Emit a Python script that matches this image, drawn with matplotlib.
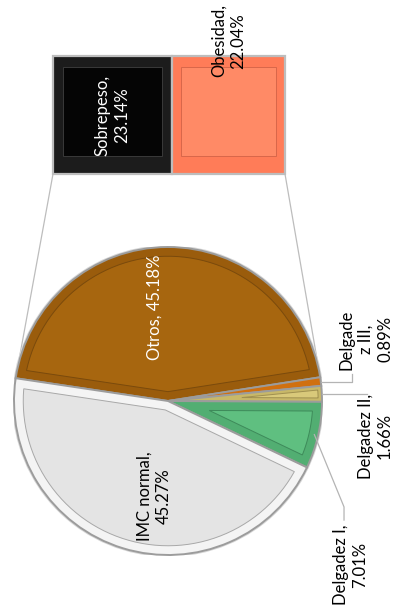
import numpy as np
import matplotlib
matplotlib.use("Agg")
import matplotlib.pyplot as plt
from matplotlib.patches import Polygon, ConnectionPatch

plt.rcParams['font.family'] = ['Lato', 'DejaVu Sans']

# Pie slices (clockwise from the "Otros" slice)
pie_labels = ["Otros", "Delgadez III", "Delgadez II", "Delgadez I", "IMC normal"]
pie_values = [45.18, 0.89, 1.66, 7.01, 45.27]
pie_texts = ["Otros, 45.18%", "Delgade\nz III,\n0.89%", "Delgadez II,\n1.66%",
             "Delgadez I,\n7.01%", "IMC normal,\n45.27%"]
pie_face = ["#A7660F", "#E2801A", "#D9C97A", "#5FBF80", "#E4E4E4"]
pie_rim = ["#9A5C0C", "#D07010", "#C8B868", "#52AE72", "#F4F4F4"]
pie_line = ["#7A4A0C", "#A05A10", "#A09050", "#3E8A5A", "#A8A8A8"]

# Bar breaking down "Otros"
bar_labels = ["Sobrepeso", "Obesidad"]
bar_values = [23.14, 22.04]
bar_texts = ["Sobrepeso,\n23.14%", "Obesidad,\n22.04%"]
bar_face = ["#050505", "#FF8A66"]
bar_rim = ["#1C1C1C", "#FF7C58"]
bar_line = ["#3A3A3A", "#D8674A"]

FS = 12
LS = 1.25

W, H = 395, 609
fig = plt.figure(figsize=(W / 100, H / 100), dpi=100)
fig.patch.set_facecolor("white")

# ---- pie ----
cx, cy, R = 168, 401, 154
ax = fig.add_axes([(cx - R) / W, (H - cy - R) / H, 2 * R / W, 2 * R / H])

# soft outer rim behind the pie
ax.add_patch(plt.Circle((0, 0), 1.012, facecolor="#D8D8D8", edgecolor="none", zorder=0))

wedges, _ = ax.pie(pie_values, startangle=171.5, counterclock=False,
                   colors=pie_rim, radius=1.0,
                   wedgeprops=dict(edgecolor="#9C9C9C", linewidth=1.4))
for w in wedges:
    w.set_zorder(1)
ax.set_xlim(-1, 1)
ax.set_ylim(-1, 1)
ax.set_aspect("auto")
ax.axis("off")


def inset_sector(t1, t2, r, d, n=60):
    """Sector from t1 to t2 (deg) shrunk inward by distance d."""
    a1, a2 = np.radians(t1), np.radians(t2)
    half = (a2 - a1) / 2
    mid = (a1 + a2) / 2
    shift = d / np.sin(half) if half < np.pi / 2 else d
    apex = np.array([np.cos(mid), np.sin(mid)]) * shift
    rr = r - d
    trim = np.arcsin(min(d / rr, 0.99))
    ang = np.linspace(a1 + trim, a2 - trim, n)
    arc = np.column_stack([rr * np.cos(ang), rr * np.sin(ang)])
    return np.vstack([apex, arc])


for w, face, line in zip(wedges, pie_face, pie_line):
    span = w.theta2 - w.theta1
    if span < 4:
        continue
    d = 0.06 if span > 20 else 0.025
    pts = inset_sector(w.theta1, w.theta2, 1.0, d)
    ax.add_patch(Polygon(pts, closed=True, facecolor=face, edgecolor=line,
                         linewidth=0.7, zorder=2))

txt = dict(rotation=90, fontsize=FS, ha="center", va="center",
           multialignment="center", linespacing=LS, clip_on=False, zorder=5)

# labels inside the pie
ax.text(-0.09, 0.61, pie_texts[0], color="white", **txt)
ax.text(-0.09, -0.62, pie_texts[4], color="black", **txt)


def mid_point(w, r=1.0):
    a = np.radians((w.theta1 + w.theta2) / 2)
    return r * np.cos(a), r * np.sin(a)


# outside labels with leader lines
lc = "#B4B4B4"
x0, y0 = mid_point(wedges[1])
ax.plot([x0, 1.195, 1.195], [y0, y0, 0.175], color=lc, lw=0.9, clip_on=False)
ax.text(1.285, 0.40, pie_texts[1], color="black", **txt)

x0, y0 = mid_point(wedges[2])
ax.plot([x0, 1.29], [y0, y0], color=lc, lw=0.9, clip_on=False)
ax.text(1.345, -0.23, pie_texts[2], color="black", **txt)

x0, y0 = mid_point(wedges[3], 0.975)
ax.plot([x0, 1.143, 1.143], [y0, -0.688, -0.773], color=lc, lw=0.9, clip_on=False)
ax.text(1.185, -1.065, pie_texts[3], color="black", **txt)

# ---- stacked bar ----
bl, br, bt, bb = 53, 285, 56, 174
axb = fig.add_axes([bl / W, (H - bb) / H, (br - bl) / W, (bb - bt) / H])
total = sum(bar_values)
axb.set_xlim(0, total)
axb.set_ylim(-0.5, 0.5)
axb.axis("off")
left = 0
for v, rim, face, line in zip(bar_values, bar_rim, bar_face, bar_line):
    axb.barh(0, v, left=left, height=1.0, color=rim, edgecolor="#BDBDBD",
             linewidth=1.6, zorder=1, clip_on=False)
    pad_x = v * 0.08
    axb.barh(0.03, v - 2 * pad_x, left=left + pad_x, height=0.76, color=face,
             edgecolor=line, linewidth=0.7, zorder=2)
    left += v

axb.text(bar_values[0] / 2, 0.0, bar_texts[0], color="white", **txt)
axb.text(bar_values[0] + bar_values[1] / 2, 0.63, bar_texts[1], color="black", **txt)

# ---- connectors between bar and the "Otros" slice ----
otros = wedges[0]
for xb, theta in [(0, otros.theta2), (total, otros.theta1)]:
    a = np.radians(theta)
    con = ConnectionPatch(xyA=(xb, -0.5), coordsA=axb.transData,
                          xyB=(np.cos(a), np.sin(a)), coordsB=ax.transData,
                          color="#BDBDBD", lw=0.9, zorder=0)
    fig.add_artist(con)

fig.savefig("out.png", dpi=100, facecolor="white")
